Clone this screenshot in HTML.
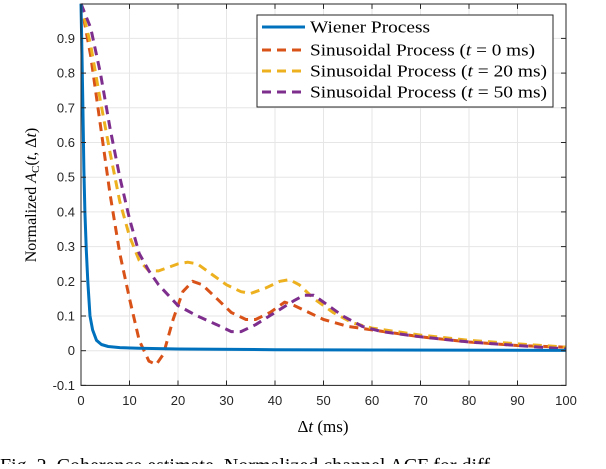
<!DOCTYPE html>
<html><head><meta charset="utf-8"><style>
body{margin:0;background:#fff;width:606px;height:464px;overflow:hidden}
svg text{font-family:"Liberation Sans",sans-serif}
.serif{font-family:"Liberation Serif",serif}
</style></head><body>
<svg width="606" height="464">
<g id="grid"></g>
<g id="series"></g>
<rect x="81" y="4" width="485" height="381.4" fill="none" stroke="#262626" stroke-width="1"/>
<g id="ticks"></g>
<text x="323" y="432" text-anchor="middle" class="serif" font-size="17">Δ<tspan font-style="italic">t</tspan> (ms)</text>
<text transform="translate(36,195) rotate(-90)" text-anchor="middle" class="serif" font-size="16">Normalized <tspan font-style="italic">A</tspan><tspan font-size="11" dy="3">C</tspan><tspan dy="-3">(</tspan><tspan font-style="italic">t</tspan>, Δ<tspan font-style="italic">t</tspan>)</text>
<g>
<rect x="257" y="15" width="296" height="92" fill="#fff" stroke="#262626" stroke-width="1"/>
<g><line x1="262" y1="27" x2="305" y2="27" stroke="#0072BD" stroke-width="3"/><text x="310" y="32.5" class="serif" font-size="17" textLength="120" lengthAdjust="spacingAndGlyphs">Wiener Process</text></g>
<g><line x1="262" y1="50" x2="305" y2="50" stroke="#D95319" stroke-width="3" stroke-dasharray="9,6"/><text x="310" y="55.5" class="serif" font-size="17" textLength="225" lengthAdjust="spacingAndGlyphs">Sinusoidal Process (<tspan font-style="italic">t</tspan> = 0 ms)</text></g>
<g><line x1="262" y1="71" x2="305" y2="71" stroke="#EDB120" stroke-width="3" stroke-dasharray="9,6"/><text x="310" y="76.5" class="serif" font-size="17" textLength="237" lengthAdjust="spacingAndGlyphs">Sinusoidal Process (<tspan font-style="italic">t</tspan> = 20 ms)</text></g>
<g><line x1="262" y1="92" x2="305" y2="92" stroke="#7E2F8E" stroke-width="3" stroke-dasharray="9,6"/><text x="310" y="97.5" class="serif" font-size="17" textLength="237" lengthAdjust="spacingAndGlyphs">Sinusoidal Process (<tspan font-style="italic">t</tspan> = 50 ms)</text></g>
</g>
<text x="0" y="472" class="serif" font-size="20">Fig. 2.   Coherence estimate. Normalized channel ACF for diff</text>
</svg>
<script>
const xTicks=[0,10,20,30,40,50,60,70,80,90,100];
const yTicks=[-0.1,0,0.1,0.2,0.3,0.4,0.5,0.6,0.7,0.8,0.9];
const yTickLabels=["-0.1","0","0.1","0.2","0.3","0.4","0.5","0.6","0.7","0.8","0.9"];
const wienerT=[0,0.2,0.4,0.6,0.8,1.1,1.4,1.85,2.4,3.2,4.2,5.6,8,12,20,40,60,100];
const wienerV=[1,0.85,0.7,0.52,0.4,0.29,0.2,0.1,0.06,0.03,0.018,0.012,0.009,0.007,0.005,0.003,0.002,0.001];
const sin0T=[0,2,4,6,8,10,12,14,15.5,17,19,21,23,25,28,31,34,36,39,42,44,47,50,55,60,70,80,90,100];
const sin0V=[1,0.85,0.65,0.45,0.28,0.15,0.03,-0.03,-0.04,-0.01,0.09,0.17,0.2,0.19,0.15,0.11,0.09,0.09,0.11,0.14,0.13,0.11,0.09,0.07,0.06,0.04,0.025,0.015,0.01];
const sin20T=[0,2,4,6,8,10,12,14,16,18,20,22,24,27,30,33,35,38,41,43,45,48,52,56,60,70,80,90,100];
const sin20V=[1,0.88,0.72,0.57,0.43,0.33,0.26,0.23,0.23,0.24,0.25,0.255,0.25,0.22,0.19,0.17,0.165,0.18,0.2,0.205,0.19,0.15,0.11,0.08,0.065,0.045,0.03,0.02,0.01];
const sin50T=[0,2,4,6,8,10,12,14,16,18,20,24,28,31,33,36,40,44,46,48,50,54,58,62,70,80,90,100];
const sin50V=[1,0.93,0.8,0.64,0.5,0.38,0.28,0.23,0.19,0.16,0.13,0.1,0.075,0.055,0.055,0.075,0.11,0.145,0.16,0.16,0.14,0.1,0.07,0.055,0.04,0.025,0.015,0.005];
const NS="http://www.w3.org/2000/svg";
const X=t=>81+t*4.85, Y=v=>350.7-v*347;
function mk(tag,attrs,parent){const e=document.createElementNS(NS,tag);for(const k in attrs)e.setAttribute(k,attrs[k]);parent.appendChild(e);return e;}
const grid=document.getElementById('grid'),ticks=document.getElementById('ticks'),series=document.getElementById('series');
xTicks.forEach(t=>{
 const g=mk('line',{x1:X(t),x2:X(t),y1:4,y2:385.4,stroke:'#e6e6e6','stroke-width':1},grid);
 
 
 mk('line',{x1:X(t),x2:X(t),y1:385.4,y2:380.5,stroke:'#262626'},ticks);
 mk('line',{x1:X(t),x2:X(t),y1:4,y2:8.9,stroke:'#262626'},ticks);
 const l=mk('text',{x:X(t),y:405,'text-anchor':'middle','font-size':13,fill:'#262626'},ticks);
 l.textContent=t;
 
 
});
yTicks.forEach((v,i)=>{
 const g=mk('line',{x1:81,x2:566,y1:Y(v),y2:Y(v),stroke:'#e6e6e6','stroke-width':1},grid);
 
 
 mk('line',{x1:81,x2:86,y1:Y(v),y2:Y(v),stroke:'#262626'},ticks);
 mk('line',{x1:566,x2:561,y1:Y(v),y2:Y(v),stroke:'#262626'},ticks);
 const l=mk('text',{x:75,y:Y(v)+4.5,'text-anchor':'end','font-size':13,fill:'#262626'},ticks);
 l.textContent=yTickLabels[i];
 
 
});
function path(T,V){let d='';T.forEach((t,i)=>{d+=(i?'L':'M')+X(t).toFixed(1)+','+Y(V[i]).toFixed(1);});return d;}
const defs=[[sin0T,sin0V,'#D95319','series-sin-0ms'],[sin20T,sin20V,'#EDB120','series-sin-20ms'],[sin50T,sin50V,'#7E2F8E','series-sin-50ms']];
defs.forEach(s=>{
 const p=mk('path',{d:path(s[0],s[1]),fill:'none',stroke:s[2],'stroke-width':3,'stroke-dasharray':'9,6','stroke-linejoin':'round'},series);
 
 
});
const w=mk('path',{d:path(wienerT,wienerV),fill:'none',stroke:'#0072BD','stroke-width':3,'stroke-linejoin':'round'},series);


</script>
</body></html>
